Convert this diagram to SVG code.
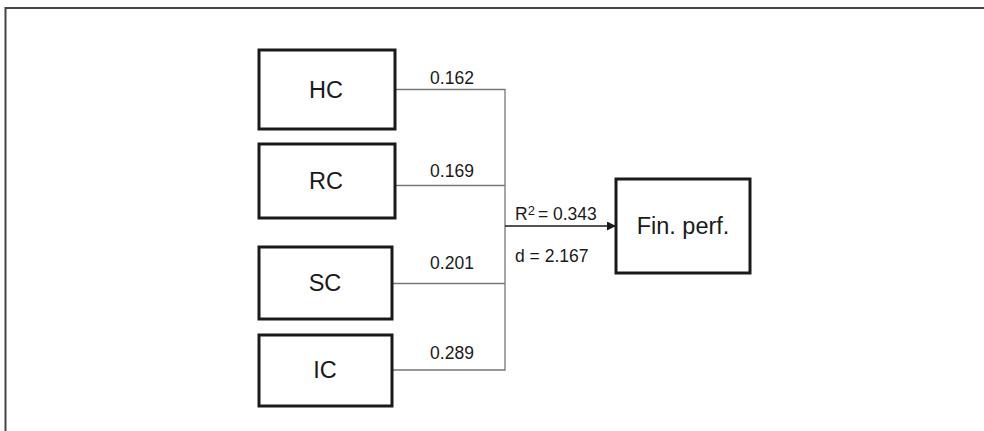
<svg xmlns="http://www.w3.org/2000/svg" width="984" height="431" viewBox="0 0 984 431">
<style>
.box{fill:#fff;stroke:#1a1a1a;stroke-width:3}
.lbl{font-family:"Liberation Sans",Arial,sans-serif;font-size:23.5px;fill:#1a1a1a;text-anchor:middle}
.coef{font-family:"Liberation Sans",Arial,sans-serif;font-size:17.5px;fill:#1a1a1a}
.ln{fill:none;stroke:#777;stroke-width:1.3}
</style>
<defs>
<marker id="arr" viewBox="0 0 10 10" refX="10" refY="5" markerWidth="9" markerHeight="9" markerUnits="userSpaceOnUse" orient="auto">
<path d="M0,0 L10,5 L0,10 z" fill="#1a1a1a"/>
</marker>
</defs>
<rect x="0" y="0" width="984" height="431" fill="#fff"/>
<g id="frame">
<path d="M5.5,431 V8 H984" fill="none" stroke="#444" stroke-width="2"/>
</g>
<g id="connectors">
<path class="ln" d="M395,89.5 H505 V370 H392"/>
<path class="ln" d="M395,185.5 H505"/>
<path class="ln" d="M392,283.5 H505"/>
<path d="M505,226 H616" fill="none" stroke="#1a1a1a" stroke-width="1.3" marker-end="url(#arr)"/>
<text class="coef" x="452" y="84" text-anchor="middle">0.162</text>
<text class="coef" x="452" y="177" text-anchor="middle">0.169</text>
<text class="coef" x="452" y="269" text-anchor="middle">0.201</text>
<text class="coef" x="452" y="359" text-anchor="middle">0.289</text>
<text class="coef" x="515" y="220">R<tspan font-size="13" dy="-5">2</tspan><tspan dy="5" dx="3">= 0.343</tspan></text>
<text class="coef" x="515" y="262">d = 2.167</text>
</g>
<g id="HC"><rect class="box" x="259" y="50" width="136" height="79"/><text class="lbl" x="326" y="98">HC</text></g>
<g id="RC"><rect class="box" x="259" y="144" width="136" height="74"/><text class="lbl" x="326" y="189">RC</text></g>
<g id="SC"><rect class="box" x="259" y="247" width="133" height="72"/><text class="lbl" x="325" y="291">SC</text></g>
<g id="IC"><rect class="box" x="259" y="335" width="133" height="71"/><text class="lbl" x="325" y="378">IC</text></g>
<g id="FinPerf"><rect class="box" x="616" y="179" width="134" height="94"/><text class="lbl" x="683" y="234">Fin. perf.</text></g>
</svg>
